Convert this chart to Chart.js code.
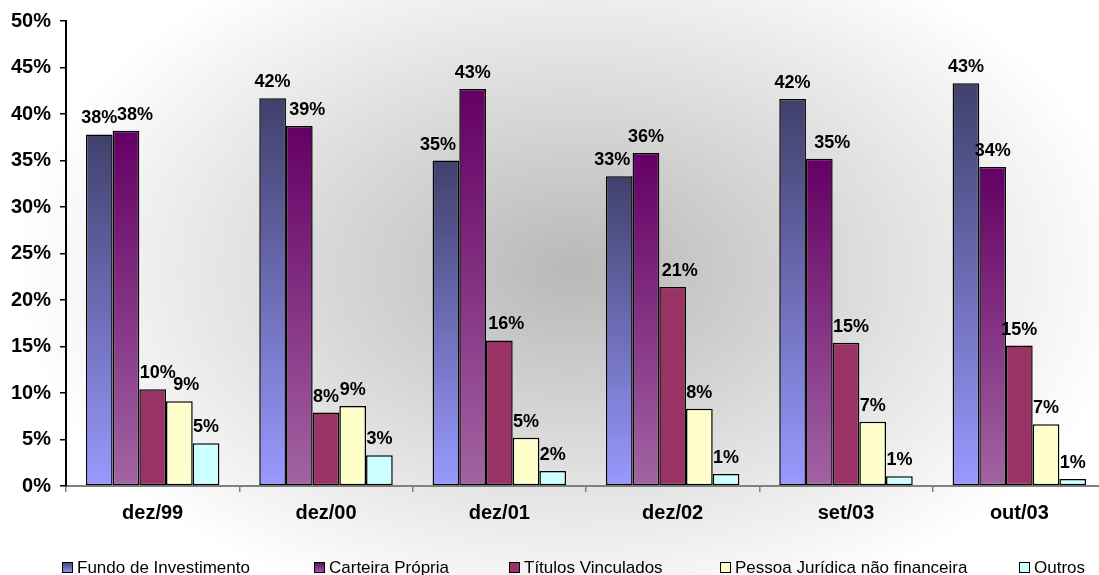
<!DOCTYPE html>
<html>
<head>
<meta charset="utf-8">
<script src="https://cdn.jsdelivr.net/npm/chart.js@4.4.1/dist/chart.umd.min.js"></script>
<style>
    html, body { margin: 0; padding: 0; background: #fff; overflow: hidden; }
    #wrap { width: 1099px; height: 575px; overflow: hidden; position: relative; }
    canvas { display: block; }
</style>
</head>
<body>
<div id="wrap"><canvas id="chart" width="1106" height="575"></canvas></div>
<script>
// Data (percent)
const categories = ['dez/99', 'dez/00', 'dez/01', 'dez/02', 'set/03', 'out/03'];
const seriesNames = ['Fundo de Investimento', 'Carteira Própria', 'Títulos Vinculados', 'Pessoa Jurídica não financeira', 'Outros'];
const fundo    = [37.8, 41.7, 35.0, 33.3, 41.6, 43.3];
const carteira = [38.2, 38.7, 42.7, 35.8, 35.2, 34.3];
const titulos  = [10.4, 7.9, 15.65, 21.4, 15.4, 15.1];
const pessoa   = [9.1, 8.6, 5.2, 8.3, 6.9, 6.65];
const outros   = [4.6, 3.3, 1.6, 1.3, 1.05, 0.75];
const yTicks   = [0, 5, 10, 15, 20, 25, 30, 35, 40, 45, 50];

// styles
const fillTop    = ['#40406c', '#640064', '#993366', '#ffffcc', '#ccffff'];
const fillBottom = ['#9999ff', '#a264a2', '#993366', '#ffffcc', '#ccffff'];
// small sideways nudges of value labels, as in the original
const labelShift = [
    [0, 0, -8, -7, 0, 0],
    [9, 8, 0, 0, 13, 0],
    [5, 0, 7, 7, 5, 0],
    [7, 0, 0, 0, 0, 0],
    [0, 0, 0, 0, 0, 0]
];
// legend entry positions (left edge of each key box)
const legendX = [62, 314, 509, 720, 1019];

const seriesValues = [fundo, carteira, titulos, pessoa, outros];
const FONT = 'Arial, "Liberation Sans", sans-serif';

function barFill(i) {
    if (fillTop[i] === fillBottom[i]) return fillTop[i];
    return function (ctx) {
        const chart = ctx.chart;
        if (!chart.chartArea || ctx.type !== 'data') return fillBottom[i];
        const y = chart.scales.y;
        const g = chart.ctx.createLinearGradient(0, y.getPixelForValue(ctx.raw), 0, y.getPixelForValue(0));
        g.addColorStop(0, fillTop[i]);
        g.addColorStop(1, fillBottom[i]);
        return g;
    };
}

const backgroundPlugin = {
    id: 'radialBackground',
    beforeDraw(chart) {
        const c = chart.ctx;
        c.save();
        c.fillStyle = '#ffffff';
        c.fillRect(0, 0, chart.width, chart.height);
        c.translate(575, 270);
        c.scale(1, 360 / 560);
        const g = c.createRadialGradient(0, 0, 0, 0, 0, 560);
        g.addColorStop(0, '#b8b8b8');
        g.addColorStop(1, '#ffffff');
        c.fillStyle = g;
        c.fillRect(-1500, -1500, 3000, 3000);
        c.restore();
    }
};

const valueLabelPlugin = {
    id: 'valueLabels',
    afterDatasetsDraw(chart) {
        const c = chart.ctx;
        c.save();
        c.font = 'bold 18px ' + FONT;
        c.fillStyle = '#000';
        c.textAlign = 'center';
        c.textBaseline = 'alphabetic';
        chart.data.datasets.forEach((ds, i) => {
            chart.getDatasetMeta(i).data.forEach((bar, j) => {
                const txt = Math.round(ds.data[j]) + '%';
                c.fillText(txt, bar.x + labelShift[i][j], bar.y - 11);
            });
        });
        c.restore();
    }
};

const legendPlugin = {
    id: 'excelLegend',
    afterDraw(chart) {
        const c = chart.ctx;
        c.save();
        c.font = '17px ' + FONT;
        c.textBaseline = 'alphabetic';
        const boxTop = 562, box = 11, base = 573;
        seriesNames.forEach((name, i) => {
            const x = legendX[i];
            const g = c.createLinearGradient(0, boxTop, 0, boxTop + box);
            g.addColorStop(0, fillTop[i]);
            g.addColorStop(1, fillBottom[i]);
            c.fillStyle = g;
            c.fillRect(x, boxTop, box, box);
            c.strokeStyle = '#000';
            c.lineWidth = 1;
            c.strokeRect(x + 0.5, boxTop + 0.5, box - 1, box - 1);
            c.fillStyle = '#000';
            c.fillText(name, x + box + 4, base);
        });
        c.restore();
    }
};

new Chart(document.getElementById('chart'), {
    type: 'bar',
    data: {
        labels: categories,
        datasets: seriesValues.map((vals, i) => ({
            label: seriesNames[i],
            data: vals,
            backgroundColor: barFill(i),
            borderColor: '#000',
            borderWidth: 1.5,
            borderSkipped: false,
            categoryPercentage: 0.77,
            barPercentage: 1
        }))
    },
    options: {
        responsive: false,
        animation: false,
        devicePixelRatio: 1,
        layout: { padding: { top: 19, right: 0, bottom: 41, left: 0 } },
        plugins: {
            legend: { display: false },
            tooltip: { enabled: false }
        },
        scales: {
            x: {
                border: { color: '#808080', width: 2 },
                grid: { drawOnChartArea: false, offset: true, tickLength: 6, color: '#808080', lineWidth: 1.5 },
                ticks: { color: '#000', font: { family: FONT, size: 20, weight: 'bold' }, padding: 9, maxRotation: 0 }
            },
            y: {
                min: 0,
                max: 50,
                afterFit(scale) { scale.width = 66; },
                afterBuildTicks(scale) { scale.ticks = yTicks.map(v => ({ value: v })); },
                border: { color: '#000', width: 2 },
                grid: { drawOnChartArea: false, tickLength: 6, color: '#000', lineWidth: 1.5 },
                ticks: {
                    color: '#000',
                    font: { family: FONT, size: 20, weight: 'bold' },
                    padding: 9,
                    callback: v => v + '%'
                }
            }
        }
    },
    plugins: [backgroundPlugin, valueLabelPlugin, legendPlugin]
});
</script>
</body>
</html>
